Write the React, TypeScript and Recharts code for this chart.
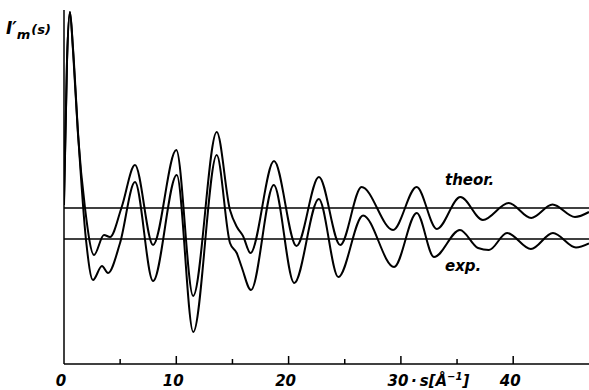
import { LineChart, Line, XAxis, YAxis, ReferenceLine } from 'recharts';

// s values (Å^-1) and intensities (arbitrary units, 0 = bottom axis)
const theorS = [0, 0.27, 0.53, 0.8, 1.25, 1.87, 2.67, 3.56, 4.1, 5.14, 6.32, 7.93, 10.0, 11.5, 13.6, 14.78, 15.4, 15.94, 16.6, 18.7, 20.7, 22.7, 24.6, 26.5, 29.3, 31.4, 33.2, 35.3, 37.3, 39.6, 41.6, 43.5, 45.5, 46.75];
const theorI = [16.4, 30.4, 35.2, 31.4, 22.9, 15.6, 10.9, 12.9, 12.7, 15.7, 19.9, 11.9, 21.4, 6.8, 23.2, 15.4, 13.7, 12.8, 11.1, 20.3, 11.8, 18.7, 11.9, 17.7, 13.4, 17.7, 13.5, 16.7, 14.4, 16.1, 14.6, 15.95, 14.7, 15.2];

const expS = [0, 0.27, 0.53, 0.8, 1.25, 1.96, 2.58, 3.38, 3.92, 4.99, 6.32, 7.93, 10.04, 11.51, 13.6, 14.78, 15.38, 15.82, 16.65, 18.68, 20.5, 22.69, 24.43, 26.63, 29.39, 31.41, 32.95, 35.26, 36.87, 37.84, 39.45, 41.58, 43.54, 45.59, 46.75];
const expI = [15.9, 30.4, 35.2, 31.6, 23.1, 12.4, 8.4, 9.8, 9.1, 12.1, 18.2, 8.3, 18.9, 3.2, 20.9, 12.1, 11.1, 9.7, 7.4, 17.9, 8.1, 16.5, 8.7, 14.85, 9.7, 15.1, 10.7, 13.4, 11.6, 11.4, 13.1, 11.5, 13.1, 11.65, 12.05];

// zero lines of the two curves
const theorBase = 15.6;
const expBase = 12.5;

const xTicks = [0, 5, 10, 15, 20, 25, 30, 35, 40];

const theorData = theorS.map((s, i) => ({ s, v: theorI[i] }));
const expData = expS.map((s, i) => ({ s, v: expI[i] }));

const FONT = '"DejaVu Sans", sans-serif';

const AxisTick = ({ x, y, payload }: { x?: number; y?: number; payload?: { value: number } }) => {
  const v = payload?.value ?? 0;
  const major = v % 10 === 0;
  return (
    <g>
      {v > 0 && (
        <line x1={x} x2={x} y1={y} y2={(y ?? 0) - (major ? 8 : 5)} stroke="#000" strokeWidth={1.5} />
      )}
      {major && (
        <text x={(x ?? 0) - 3} y={(y ?? 0) + 22} textAnchor="middle" fontFamily={FONT} fontSize={15}
          fontWeight="bold" fontStyle="italic" fill="#000">
          {v}
        </text>
      )}
    </g>
  );
};

const txt = { fontFamily: FONT, fontWeight: 'bold' as const, fontStyle: 'italic' as const, fill: '#000' };

export default function App() {
  return (
    <div style={{ position: 'absolute', left: 0, top: 0, width: 589, height: 390, background: '#fff' }}>
      <LineChart width={589} height={390} margin={{ top: 10, right: 0, bottom: 0, left: 0 }}>
        <XAxis
          type="number"
          dataKey="s"
          domain={[0, 46.75]}
          ticks={xTicks}
          height={26}
          tickSize={0}
          tickMargin={0}
          tickLine={false}
          axisLine={{ stroke: '#000', strokeWidth: 1.5 }}
          tick={<AxisTick />}
          allowDataOverflow
        />
        <YAxis
          type="number"
          domain={[0, 35.4]}
          width={64}
          tick={false}
          tickLine={false}
          axisLine={{ stroke: '#000', strokeWidth: 1.5 }}
          allowDataOverflow
        />
        <ReferenceLine y={theorBase} stroke="#000" strokeWidth={1.3} />
        <ReferenceLine y={expBase} stroke="#000" strokeWidth={1.3} />
        <Line data={theorData} dataKey="v" type="monotone" stroke="#000" strokeWidth={2}
          dot={false} isAnimationActive={false} />
        <Line data={expData} dataKey="v" type="monotone" stroke="#000" strokeWidth={2}
          dot={false} isAnimationActive={false} />
      </LineChart>
      <svg width={589} height={390} style={{ position: 'absolute', left: 0, top: 0, pointerEvents: 'none' }}>
        <text x={6} y={34} fontSize={17} {...txt}>
          I′<tspan dy={5} fontSize={13}>m</tspan><tspan dx={1} dy={-5} fontSize={13}>(s)</tspan>
        </text>
        <text x={445} y={185} fontSize={15} {...txt}>theor.</text>
        <text x={445} y={271} fontSize={15} {...txt}>exp.</text>
        <text x={411} y={386} fontSize={15} {...txt}>
          ·<tspan dx={3}>s[Å</tspan><tspan dy={-6} fontSize={10}>−1</tspan><tspan dy={6}>]</tspan>
        </text>
      </svg>
    </div>
  );
}
